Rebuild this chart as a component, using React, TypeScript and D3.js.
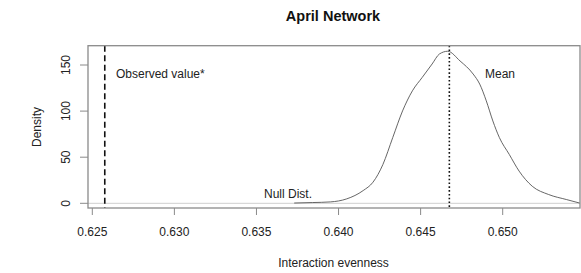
import React from "react";
import * as d3 from "d3";

const W = 581;
const H = 273;

const title = "April Network";
const xLabel = "Interaction evenness";
const yLabel = "Density";

// Null distribution density (x = interaction evenness, y = density)
const nullX = [
  0.6373, 0.6384, 0.6395, 0.6405, 0.6415, 0.6421, 0.6427, 0.6433, 0.6439,
  0.6445, 0.6451, 0.6457, 0.64615, 0.64665, 0.6474, 0.6482, 0.6486, 0.649,
  0.6494, 0.6498, 0.6504, 0.651, 0.6518, 0.6528, 0.6539, 0.6547,
];
const nullY = [
  0.3, 0.8, 1.5, 4.8, 13.8, 22.9, 42, 71.2, 100.2, 122, 136.6, 151.1, 162,
  164.9, 154.4, 140.2, 129.3, 111.1, 89.3, 71.2, 53, 34.9, 18.5, 9.5, 4, 0.2,
];

const observedValue = 0.62576;
const meanValue = 0.64675;

const xTicks = [0.625, 0.63, 0.635, 0.64, 0.645, 0.65];
const xTickLabels = ["0.625", "0.630", "0.635", "0.640", "0.645", "0.650"];
const yTicks = [0, 50, 100, 150];
const yTickLabels = ["0", "50", "100", "150"];

const labelObserved = "Observed value*";
const labelMean = "Mean";
const labelNull = "Null Dist.";

export default function App() {
  const left = 88;
  const right = 580;
  const top = 45.7;
  const bottom = 208;

  const x = d3.scaleLinear().domain([0.625, 0.65]).range([92.3, 502.7]);
  const y = d3.scaleLinear().domain([0, 150]).range([203.3, 65]);

  const pts: [number, number][] = nullX.map((v, i) => [v, nullY[i]]);
  const line = d3
    .line<[number, number]>()
    .x((d) => x(d[0]))
    .y((d) => y(d[1]))
    .curve(d3.curveMonotoneX);

  const font = "'Liberation Sans', Arial, sans-serif";
  const axisColor = "#8a8a8a";
  const textColor = "#222";

  return (
    <svg
      width={W}
      height={H}
      style={{ position: "absolute", left: 0, top: 0, background: "#fff" }}
      fontFamily={font}
    >
      <rect x={0} y={0} width={W} height={H} fill="#fff" />
      {/* zero line */}
      <line x1={left} x2={right} y1={y(0)} y2={y(0)} stroke="#cfcfcf" strokeWidth={1} />
      {/* density curve */}
      <path d={line(pts) || ""} fill="none" stroke="#555" strokeWidth={0.9} />
      {/* observed line */}
      <line
        x1={x(observedValue)}
        x2={x(observedValue)}
        y1={top}
        y2={bottom}
        stroke="#111"
        strokeWidth={1.6}
        strokeDasharray="6,3.5"
      />
      {/* mean line */}
      <line
        x1={x(meanValue)}
        x2={x(meanValue)}
        y1={top}
        y2={bottom}
        stroke="#111"
        strokeWidth={1.6}
        strokeDasharray="1.6,2.2"
      />
      {/* box */}
      <rect
        x={left}
        y={top}
        width={right - left}
        height={bottom - top}
        fill="none"
        stroke={axisColor}
        strokeWidth={1.3}
      />
      {/* x axis ticks */}
      {xTicks.map((t, i) => (
        <g key={"xt" + i}>
          <line x1={x(t)} x2={x(t)} y1={bottom} y2={bottom + 7} stroke={axisColor} strokeWidth={1} />
          <text x={x(t)} y={236} textAnchor="middle" fontSize={12} fill={textColor}>
            {xTickLabels[i]}
          </text>
        </g>
      ))}
      {/* y axis ticks */}
      {yTicks.map((t, i) => (
        <g key={"yt" + i}>
          <line x1={left - 8} x2={left} y1={y(t)} y2={y(t)} stroke={axisColor} strokeWidth={1} />
          <text
            transform={`translate(69.5,${y(t)}) rotate(-90)`}
            textAnchor="middle"
            fontSize={12}
            fill={textColor}
          >
            {yTickLabels[i]}
          </text>
        </g>
      ))}
      {/* labels */}
      <text x={116} y={78} fontSize={12} fill={textColor}>
        {labelObserved}
      </text>
      <text x={485} y={78} fontSize={12} fill={textColor}>
        {labelMean}
      </text>
      <text x={264} y={198} fontSize={12} fill={textColor}>
        {labelNull}
      </text>
      {/* title */}
      <text x={333} y={21} textAnchor="middle" fontSize={14.5} fontWeight="bold" fill="#111">
        {title}
      </text>
      <text x={333.5} y={267} textAnchor="middle" fontSize={12} fill={textColor}>
        {xLabel}
      </text>
      <text
        transform={`translate(41,127) rotate(-90)`}
        textAnchor="middle"
        fontSize={12}
        fill={textColor}
      >
        {yLabel}
      </text>
    </svg>
  );
}
